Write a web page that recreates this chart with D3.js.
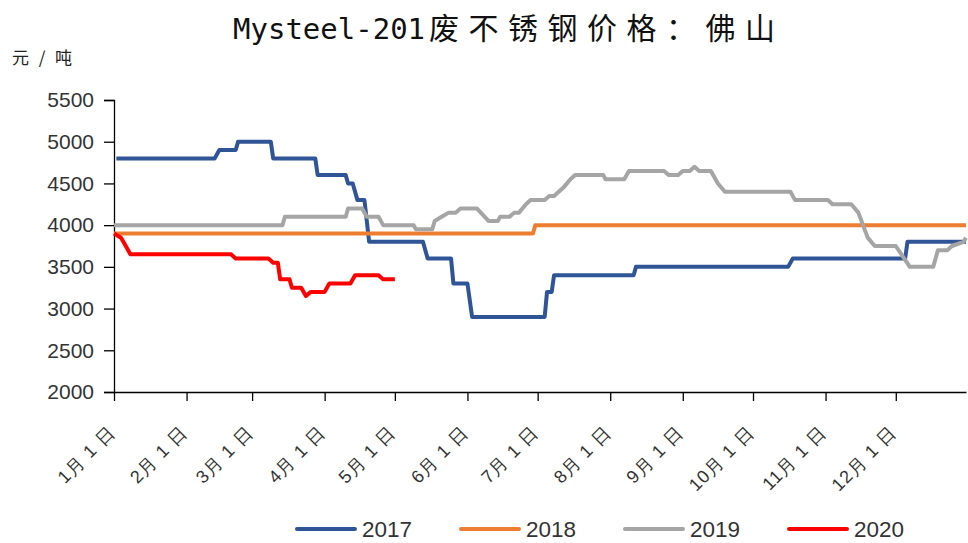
<!DOCTYPE html>
<html>
    <head>
        <meta charset="utf-8">
        <title>Mysteel-201</title>
        <style>
body {
    margin: 0;
    background-color: white;
    font-family: 'Noto Sans CJK SC', 'DejaVu Sans', sans-serif;
}

svg {
    display: block;
    background-color: white;
}

.axis path, .axis line {
    stroke: #000;
    stroke-width: 1.3px;
}

.series {
    fill: none;
    stroke-width: 4px;
    stroke-linejoin: round;
}
</style>
        <script src="https://cdn.jsdelivr.net/npm/d3@7/dist/d3.min.js"></script>
    </head>
    <body>
        <script>
var width = 968,
    height = 543;

// x = day of year (0 = 1月1日)
var monthDays = [0, 31, 59, 90, 120, 151, 181, 212, 243, 273, 304, 334];
var monthLabels = ['1月 1 日', '2月 1 日', '3月 1 日', '4月 1 日', '5月 1 日', '6月 1 日',
                   '7月 1 日', '8月 1 日', '9月 1 日', '10月 1 日', '11月 1 日', '12月 1 日'];
var yTicks = [2000, 2500, 3000, 3500, 4000, 4500, 5000, 5500];
var years = ['2017', '2018', '2019', '2020'];
var colors = ['#2f5597', '#ed7d31', '#a5a5a5', '#ff0000'];

var s2017 = [[1,4800],[43,4800],[45,4900],[52,4900],[53,5000],[67,5000],[68,4800],[86,4800],[87,4600],
    [99,4600],[100,4500],[102,4500],[104,4300],[107,4300],[109,3800],[132,3800],[134,3600],[144,3600],
    [145,3300],[151,3300],[153,2900],[184,2900],[185,3200],[187,3200],[188,3400],[222,3400],[223,3500],
    [288,3500],[290,3600],[338,3600],[339,3800],[364,3800]];

var s2018 = [[0,3900],[179,3900],[180,4000],[364,4000]];

var s2019 = [[0,4000],[72,4000],[73,4100],[99,4100],[100,4200],[106,4200],[108,4100],[113,4100],
    [115,4000],[128,4000],[129,3950],[136,3950],[137,4050],[140,4100],[143,4150],[146,4150],[148,4200],
    [155,4200],[160,4050],[164,4050],[165,4100],[169,4100],[171,4150],[173,4150],[176,4250],[178,4300],
    [184,4300],[186,4350],[188,4350],[192,4450],[195,4550],[197,4600],[209,4600],[210,4550],[218,4550],
    [220,4650],[235,4650],[237,4600],[241,4600],[243,4650],[246,4650],[248,4700],[250,4650],[255,4650],
    [258,4500],[261,4400],[289,4400],[291,4300],[305,4300],[307,4250],[315,4250],[318,4150],[322,3850],
    [325,3750],[334,3750],[340,3500],[350,3500],[352,3700],[356,3700],[358,3750],[363,3800],[364,3850]];

var s2020 = [[0,3900],[3,3850],[4,3800],[7,3650],[50,3650],[52,3600],[66,3600],[68,3550],[70,3550],
    [71,3350],[75,3350],[76,3250],[80,3250],[82,3150],[84,3200],[90,3200],[92,3300],[101,3300],
    [103,3400],[113,3400],[115,3350],[120,3350]];

var seriesData = [s2017, s2018, s2019, s2020];

var svg = d3.select('body')
    .append('svg')
    .attr('width', width)
    .attr('height', height);

var x = d3.scaleLinear().domain([0, 364]).range([114, 966]);
var y = d3.scaleLinear().domain([2000, 5500]).range([392, 100]);

// title: latin part monospace, chinese part stretched like the original
var title = svg.append('text')
    .attr('y', 39)
    .style('fill', '#111');
title.append('tspan')
    .attr('x', 233)
    .style('font-family', "'DejaVu Sans Mono', monospace")
    .style('font-size', '29px')
    .text('Mysteel-201');
title.append('tspan')
    .attr('x', 429)
    .attr('textLength', 346)
    .attr('lengthAdjust', 'spacing')
    .style('font-size', '30px')
    .text('废不锈钢价格：佛山');

svg.append('text')
    .attr('x', 12)
    .attr('y', 64)
    .attr('textLength', 60)
    .attr('lengthAdjust', 'spacing')
    .style('font-size', '17px')
    .style('fill', '#222')
    .text('元/吨');

// y axis
var yAxis = svg.append('g')
    .attr('class', 'axis')
    .attr('transform', 'translate(114,0)')
    .call(d3.axisLeft(y).tickValues(yTicks).tickSize(10).tickPadding(10).tickFormat(d3.format('d')));
yAxis.selectAll('text')
    .style('font-size', '21px')
    .style('font-family', "'Liberation Sans', sans-serif")
    .style('fill', '#333');

// x axis
var xAxis = svg.append('g')
    .attr('class', 'axis')
    .attr('transform', 'translate(0,392)')
    .call(d3.axisBottom(x).tickValues(monthDays).tickSize(9).tickSizeOuter(0)
        .tickFormat(function (d, i) { return monthLabels[i]; }));
xAxis.selectAll('text')
    .attr('text-anchor', 'end')
    .attr('transform', 'translate(-3,37) rotate(-45)')
    .attr('dy', '0.35em')
    .attr('y', 0)
    .style('font-size', '18px')
    .style('letter-spacing', '1px')
    .style('fill', '#333');

// lines
var line = d3.line()
    .x(function (d) { return x(d[0]); })
    .y(function (d) { return y(d[1]); });

svg.selectAll('.series')
    .data(seriesData)
    .enter()
    .append('path')
    .attr('class', 'series')
    .attr('d', line)
    .style('stroke', function (d, i) { return colors[i]; });

// legend
var legend = svg.selectAll('.legend')
    .data(years)
    .enter()
    .append('g')
    .attr('class', 'legend')
    .attr('transform', function (d, i) { return 'translate(' + (297 + i * 164) + ',529)'; });

legend.append('line')
    .attr('x1', 0)
    .attr('x2', 58)
    .style('stroke-width', 4)
    .style('stroke-linecap', 'round')
    .style('stroke', function (d, i) { return colors[i]; });

legend.append('text')
    .attr('x', 65)
    .attr('y', 8)
    .attr('textLength', 50)
    .attr('lengthAdjust', 'spacingAndGlyphs')
    .style('font-size', '22px')
    .style('font-family', "'Liberation Sans', sans-serif")
    .style('fill', '#333')
    .text(function (d) { return d; });
        </script>
    </body>
</html>
